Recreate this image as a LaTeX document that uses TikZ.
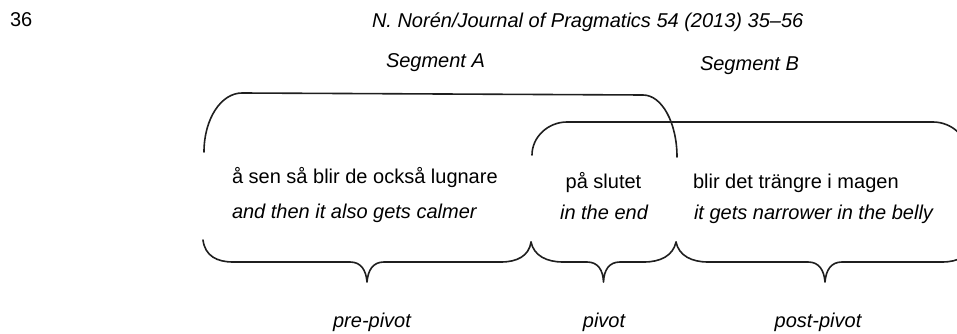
\documentclass[tikz,border=0pt]{standalone}
\usepackage{fontspec}
\setmainfont{Liberation Sans}
\begin{document}
\begin{tikzpicture}[x=1pt,y=-1pt,
  txt/.style={inner sep=0pt,outer sep=0pt,font=\fontsize{20}{24}\selectfont},
  itx/.style={txt,font=\fontsize{20}{24}\selectfont\itshape},
  brk/.style={draw=black!88,line width=1.6pt,line cap=round,line join=round}]
\useasboundingbox (0,0) rectangle (957,334);
\begin{scope}
\clip (0,0) rectangle (957,334);
% header
\node[txt,anchor=base west] (pg) at (10,27) {36};
\node[itx,anchor=base west] (hd) at (372,28) {N. Norén/Journal of Pragmatics 54 (2013) 35–56};
% segment labels
\node[itx,anchor=base west] (sa) at (386,68) {Segment A};
\node[itx,anchor=base west] (sb) at (700,71) {Segment B};
% upper brackets
\coordinate (aL) at (204,152);
\coordinate (aR) at (677,157);
\coordinate (bL) at (532,155);
\coordinate (bR) at (968,155);
\draw[brk] (aL) .. controls (204,119) and (221,93) .. (242,93)
  -- (643,95) .. controls (662,95) and (677,123) .. (aR);
\draw[brk] (bL) .. controls (532,137) and (548,122) .. (567,122)
  -- (933,122) .. controls (952,122) and (968,137) .. (bR);
% texts
\node[txt,anchor=base west] (t1a) at (232,183) {å sen så blir de också lugnare};
\node[itx,anchor=base west] (t1b) at (232,218) {and then it also gets calmer};
\node[txt,anchor=base] (t2a) at (603.5,188) {på slutet};
\node[itx,anchor=base] (t2b) at (604,219) {in the end};
\node[txt,anchor=base west] (t3a) at (693,188) {blir det trängre i magen};
\node[itx,anchor=base west] (t3b) at (694,219) {it gets narrower in the belly};
% lower braces
\coordinate (c0) at (203,240);
\coordinate (c1) at (531,242);
\coordinate (c2) at (676,242);
\coordinate (c3) at (974,240);
\draw[brk] (c0) .. controls (205,256) and (217,262) .. (233,262)
  -- (350,262) .. controls (361,262) and (366,270) .. (367,282)
  .. controls (368,270) and (373,262) .. (384,262)
  -- (501,262) .. controls (517,262) and (529,256) .. (c1);
\draw[brk] (c1) .. controls (534,256) and (547,262) .. (563,262)
  -- (587,262) .. controls (598,262) and (603,270) .. (603.5,282)
  .. controls (604,270) and (609,262) .. (620,262)
  -- (644,262) .. controls (660,262) and (673,256) .. (c2);
\draw[brk] (c2) .. controls (679,256) and (692,262) .. (708,262)
  -- (808,262) .. controls (819,262) and (824,270) .. (825,282)
  .. controls (826,270) and (831,262) .. (842,262)
  -- (942,262) .. controls (958,262) and (971,256) .. (c3);
% bottom labels
\node[itx,anchor=base] (l1) at (372,327) {pre-pivot};
\node[itx,anchor=base] (l2) at (604,327) {pivot};
\node[itx,anchor=base] (l3) at (818,327) {post-pivot};
\end{scope}
\end{tikzpicture}
\end{document}
